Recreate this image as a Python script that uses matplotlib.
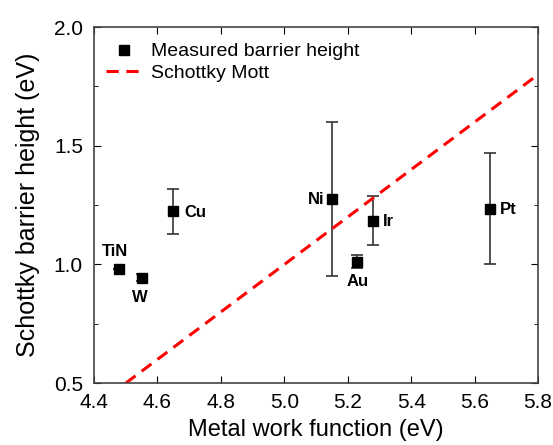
import numpy as np
import matplotlib.pyplot as plt
from matplotlib.lines import Line2D

plt.rcParams['font.family'] = ['Liberation Sans', 'DejaVu Sans']

metals = ['TiN', 'W', 'Cu', 'Ni', 'Au', 'Ir', 'Pt']
work_fn = [4.48, 4.55, 4.65, 5.15, 5.23, 5.28, 5.65]
barrier = [0.98, 0.945, 1.225, 1.275, 1.01, 1.185, 1.235]
err_low = [0.0, 0.015, 0.095, 0.325, 0.025, 0.105, 0.235]
err_high = [0.0, 0.015, 0.095, 0.325, 0.03, 0.105, 0.235]

sm_x = [4.5, 5.8]
sm_y = [0.5, 1.8]

fig = plt.figure(figsize=(5.53, 4.45), dpi=100)
ax = fig.add_axes([0.170, 0.139, 0.803, 0.800])

ax.errorbar(work_fn, barrier, yerr=[err_low, err_high], fmt='s', color='black',
            ecolor='#333333', elinewidth=1.2, capsize=4, capthick=1.2,
            markersize=7.3)
ax.plot(sm_x, sm_y, '--', color='#ff0000', lw=2.2, dashes=(4, 2.5))

offsets = {'TiN': (-0.055, 0.075, 'left'), 'W': (-0.03, -0.085, 'left'),
           'Cu': (0.035, -0.005, 'left'), 'Ni': (-0.025, 0.0, 'right'),
           'Au': (-0.035, -0.08, 'left'), 'Ir': (0.03, -0.005, 'left'),
           'Pt': (0.03, -0.005, 'left')}
for m, x, y in zip(metals, work_fn, barrier):
    dx, dy, ha = offsets[m]
    ax.text(x + dx, y + dy, m, fontsize=12, fontweight='bold', ha=ha, va='center')

ax.set_xlim(4.4, 5.8)
ax.set_ylim(0.5, 2.0)
ax.set_xticks(np.arange(4.4, 5.81, 0.2))
ax.set_yticks([0.5, 1.0, 1.5, 2.0])
ax.set_yticks([0.75, 1.25, 1.75], minor=True)
ax.tick_params(which='both', direction='in', top=True, right=True, labelsize=15)
ax.tick_params(which='major', length=5)
ax.tick_params(which='minor', length=3)
ax.tick_params(axis='x', pad=7)
ax.tick_params(axis='y', pad=8)
for s in ax.spines.values():
    s.set_color('#444444')
    s.set_linewidth(1.2)

ax.set_xlabel('Metal work function (eV)', fontsize=17, labelpad=5)
ax.set_ylabel('Schottky barrier height (eV)', fontsize=18, labelpad=10)

handles = [Line2D([], [], ls='none', marker='s', color='black', markersize=7.3),
           Line2D([], [], ls='--', color='#ff0000', lw=2.2, dashes=(4, 2.5))]
ax.legend(handles, ['Measured barrier height', 'Schottky Mott'],
          loc='upper left', frameon=False, fontsize=14, handlelength=1.85,
          borderaxespad=0, handletextpad=0.5, labelspacing=0.2,
          bbox_to_anchor=(0.009, 0.978))

fig.savefig('out.png', dpi=100)
